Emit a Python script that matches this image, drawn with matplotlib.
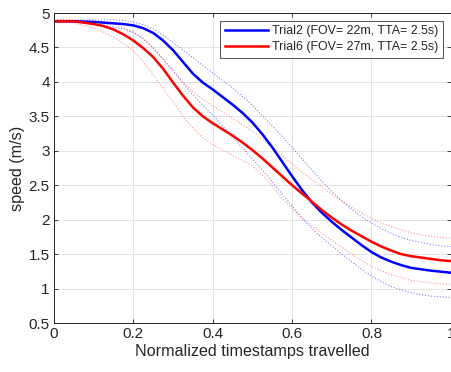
import numpy as np
import matplotlib
matplotlib.use("Agg")
import matplotlib.pyplot as plt

plt.rcParams['font.family'] = ['Liberation Sans', 'DejaVu Sans']

# --- data (x = normalized timestamp, step 0.025) ---
x = [0.0, 0.025, 0.05, 0.075, 0.1, 0.125, 0.15, 0.175, 0.2, 0.225,
     0.25, 0.275, 0.3, 0.325, 0.35, 0.375, 0.4, 0.425, 0.45, 0.475,
     0.5, 0.525, 0.55, 0.575, 0.6, 0.625, 0.65, 0.675, 0.7, 0.725,
     0.75, 0.775, 0.8, 0.825, 0.85, 0.875, 0.9, 0.925, 0.95, 0.975, 1.0]

trial2_mean = [4.88, 4.88, 4.88, 4.875, 4.87, 4.86, 4.85, 4.84, 4.82, 4.78,
               4.71, 4.60, 4.46, 4.29, 4.12, 3.99, 3.89, 3.78, 3.67, 3.55,
               3.41, 3.24, 3.05, 2.84, 2.63, 2.43, 2.25, 2.10, 1.97, 1.85,
               1.74, 1.63, 1.53, 1.45, 1.39, 1.34, 1.30, 1.28, 1.26, 1.245, 1.23]
trial2_upper = [4.90, 4.90, 4.90, 4.90, 4.90, 4.90, 4.90, 4.89, 4.87, 4.83,
                4.77, 4.68, 4.57, 4.46, 4.35, 4.24, 4.13, 4.02, 3.91, 3.79,
                3.66, 3.51, 3.36, 3.21, 3.05, 2.88, 2.72, 2.56, 2.41, 2.27,
                2.15, 2.04, 1.95, 1.87, 1.80, 1.74, 1.70, 1.67, 1.64, 1.62, 1.61]
trial2_lower = [4.88, 4.88, 4.87, 4.86, 4.84, 4.82, 4.80, 4.77, 4.72, 4.63,
                4.49, 4.33, 4.16, 3.98, 3.81, 3.66, 3.52, 3.36, 3.20, 3.04,
                2.88, 2.72, 2.55, 2.37, 2.20, 2.02, 1.87, 1.74, 1.62, 1.50,
                1.39, 1.28, 1.18, 1.10, 1.03, 0.98, 0.94, 0.91, 0.89, 0.88, 0.87]

trial6_mean = [4.88, 4.88, 4.88, 4.86, 4.84, 4.81, 4.76, 4.69, 4.60, 4.49,
               4.36, 4.19, 3.99, 3.80, 3.63, 3.50, 3.40, 3.31, 3.22, 3.12,
               3.01, 2.89, 2.76, 2.63, 2.50, 2.38, 2.26, 2.14, 2.03, 1.93,
               1.84, 1.76, 1.68, 1.61, 1.55, 1.50, 1.47, 1.45, 1.43, 1.41, 1.40]
trial6_upper = [4.90, 4.90, 4.90, 4.89, 4.88, 4.86, 4.84, 4.79, 4.72, 4.62,
                4.50, 4.33, 4.16, 4.00, 3.86, 3.75, 3.65, 3.56, 3.47, 3.38,
                3.28, 3.17, 3.05, 2.93, 2.81, 2.69, 2.58, 2.47, 2.37, 2.27,
                2.18, 2.10, 2.02, 1.95, 1.90, 1.85, 1.81, 1.78, 1.76, 1.74, 1.73]
trial6_lower = [4.87, 4.86, 4.85, 4.82, 4.78, 4.72, 4.65, 4.56, 4.45, 4.29,
                4.10, 3.90, 3.71, 3.50, 3.33, 3.19, 3.09, 3.01, 2.93, 2.86,
                2.78, 2.65, 2.48, 2.31, 2.16, 2.03, 1.91, 1.80, 1.70, 1.60,
                1.50, 1.41, 1.32, 1.26, 1.20, 1.16, 1.12, 1.10, 1.08, 1.07, 1.06]

labels = ["Trial2 (FOV= 22m, TTA= 2.5s)", "Trial6 (FOV= 27m, TTA= 2.5s)"]
xticks = [0, 0.2, 0.4, 0.6, 0.8, 1]
xticklabels = ["0", "0.2", "0.4", "0.6", "0.8", "1"]
yticks = [0.5, 1, 1.5, 2, 2.5, 3, 3.5, 4, 4.5, 5]
yticklabels = ["0.5", "1", "1.5", "2", "2.5", "3", "3.5", "4", "4.5", "5"]

fig = plt.figure(figsize=(4.52, 3.72), dpi=100)
ax = fig.add_axes([0.1195, 0.1317, 0.878, 0.8333])

dark = (0.15, 0.15, 0.15)

# spread lines (thin dotted)
ax.plot(x, trial2_upper, ':', color='blue', lw=0.8, alpha=0.5)
ax.plot(x, trial2_lower, ':', color='blue', lw=0.8, alpha=0.5)
ax.plot(x, trial6_upper, ':', color='red', lw=0.8, alpha=0.42)
ax.plot(x, trial6_lower, ':', color='red', lw=0.8, alpha=0.42)
# mean lines
l1, = ax.plot(x, trial2_mean, '-', color='blue', lw=1.8)
l2, = ax.plot(x, trial6_mean, '-', color='red', lw=1.8)

ax.set_xlim(0, 1)
ax.set_ylim(0.5, 5)
ax.set_xticks(xticks)
ax.set_xticklabels(xticklabels)
ax.set_yticks(yticks)
ax.set_yticklabels(yticklabels)
ax.tick_params(direction='in', top=True, right=True, length=3, width=0.6,
               colors=dark, labelsize=11, pad=3)
for s in ax.spines.values():
    s.set_color(dark)
    s.set_linewidth(0.7)
ax.grid(True, color=(0.87, 0.87, 0.87), lw=0.6)
ax.set_axisbelow(True)

ax.set_xlabel("Normalized timestamps travelled", fontsize=11.6, color=dark, labelpad=2)
ax.set_ylabel("speed (m/s)", fontsize=11.6, color=dark, labelpad=3)

leg = ax.legend([l1, l2], labels, loc='upper right', fontsize=8.9,
                frameon=True, fancybox=False, handlelength=3.5,
                borderpad=0.35, labelspacing=0.35, handletextpad=0.35,
                borderaxespad=0.0, bbox_to_anchor=(0.98, 0.975))
leg.get_frame().set_edgecolor(dark)
leg.get_frame().set_linewidth(0.7)
for t in leg.get_texts():
    t.set_color(dark)

fig.savefig("out.png", dpi=100)
